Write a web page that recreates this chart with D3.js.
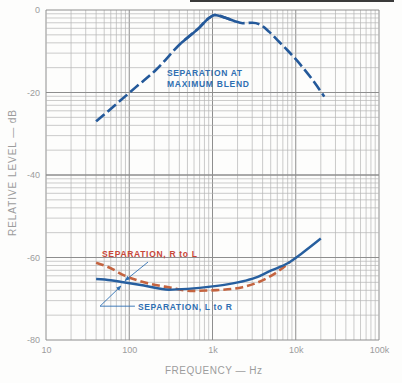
<!DOCTYPE html>
<html>
<head>
<meta charset="utf-8">
<script src="https://cdn.jsdelivr.net/npm/d3@7"></script>
<style>
  html, body { margin: 0; padding: 0; background: #fdfdfc; }
  svg { display: block; }
</style>
</head>
<body>
<script>
// ---- data ----
const freqTicks = [10, 100, 1000, 10000, 100000];
const freqTickLabels = ["10", "100", "1k", "10k", "100k"];
const dbTicks = [0, -20, -40, -60, -80];

const blendFreq = [40, 70, 120, 210, 420, 700, 900, 1060, 1400, 1850, 2300, 3000, 3700, 4800, 6300, 7900, 11000, 16000, 22000];
const blendDb   = [-27, -22.8, -18.7, -14.5, -8, -4.2, -2, -1.2, -1.8, -2.7, -3.2, -3.1, -3.5, -5.3, -7.7, -9.7, -12.9, -17, -21];

const lrFreq = [40, 60, 85, 150, 300, 500, 1000, 1500, 2500, 3500, 5000, 8000, 12000, 20000];
const lrDb   = [-65.2, -65.5, -66, -66.8, -67.8, -67.6, -67, -66.5, -65.6, -64.7, -63.2, -61.4, -58.9, -55.4];

const rlFreq = [40, 60, 84, 150, 310, 540, 1130, 2300, 4500, 6000, 8500];
const rlDb   = [-61.3, -62.6, -64.2, -66, -67.3, -68.1, -67.9, -67.2, -65, -63.5, -61.1];

// ---- layout ----
const W = 402, H = 383;
const x = d3.scaleLog().domain([10, 100000]).range([46, 379]);
const y = d3.scaleLinear().domain([0, -80]).range([10, 340]);

const svg = d3.select("body").append("svg").attr("width", W).attr("height", H);
svg.append("rect").attr("width", W).attr("height", H).attr("fill", "#fdfdfc");

// photo edge
svg.append("line").attr("x1", 190).attr("x2", 394).attr("y1", 1).attr("y2", 1)
  .attr("stroke", "#3a3a3a").attr("stroke-width", 2);

// ---- grid (log-log graph paper) ----
const grid = svg.append("g");
const vLines = [];
for (let d = 10; d < 100000; d *= 10) {
  for (let k = 1; k <= 9; k++) vLines.push({ v: d * k, major: k === 1 });
}
vLines.push({ v: 100000, major: true });
grid.selectAll(".vl").data(vLines).join("line")
  .attr("x1", d => x(d.v)).attr("x2", d => x(d.v))
  .attr("y1", y(0)).attr("y2", y(-80))
  .attr("stroke", d => d.major ? "#8e8e8e" : "#b4b4b4")
  .attr("stroke-width", d => d.major ? 1 : 0.7);

const hLines = [];
for (let top = 0; top > -80; top -= 20) {
  for (let k = 1; k <= 10; k++) {
    const db = top + 20 * Math.log10(k / 10);
    hLines.push({ v: db, major: k === 10 || k === 1 });
  }
}
grid.selectAll(".hl").data(hLines).join("line")
  .attr("x1", x(10)).attr("x2", x(100000))
  .attr("y1", d => y(d.v)).attr("y2", d => y(d.v))
  .attr("stroke", d => d.major ? "#8e8e8e" : "#b4b4b4")
  .attr("stroke-width", d => d.major ? 1 : 0.7);

// ---- axes ----
const axisColor = "#9c9c9c";
const xAxis = svg.append("g").attr("transform", `translate(0,${y(-80) + 4})`)
  .call(d3.axisBottom(x).tickValues(freqTicks).tickSize(0)
    .tickFormat((d, i) => freqTickLabels[i]));
xAxis.select(".domain").remove();
xAxis.selectAll("text").attr("fill", axisColor).attr("font-family", "Liberation Sans, Arial, sans-serif")
  .attr("font-size", 9);

const yAxis = svg.append("g").attr("transform", `translate(${x(10) - 3},0)`)
  .call(d3.axisLeft(y).tickValues(dbTicks).tickSize(0).tickFormat(d => String(d)));
yAxis.select(".domain").remove();
yAxis.selectAll("text").attr("fill", axisColor).attr("font-family", "Liberation Sans, Arial, sans-serif")
  .attr("font-size", 9);

svg.append("text")
  .attr("transform", `translate(16,236) rotate(-90)`)
  .attr("textLength", 126).attr("lengthAdjust", "spacing")
  .attr("font-family", "Liberation Sans, Arial, sans-serif").attr("font-size", 10)
  .attr("fill", axisColor)
  .text("RELATIVE LEVEL — dB");

svg.append("text")
  .attr("x", 165).attr("y", 374)
  .attr("textLength", 97).attr("lengthAdjust", "spacing")
  .attr("font-family", "Liberation Sans, Arial, sans-serif").attr("font-size", 10)
  .attr("fill", axisColor)
  .text("FREQUENCY — Hz");

// ---- curves ----
const line = d3.line().x(d => x(d[0])).y(d => y(d[1])).curve(d3.curveMonotoneX);
const blend = blendFreq.map((f, i) => [f, blendDb[i]]);
const lr = lrFreq.map((f, i) => [f, lrDb[i]]);
const rl = rlFreq.map((f, i) => [f, rlDb[i]]);

const blendColor = "#24599a";
svg.append("path").attr("d", line(blend)).attr("fill", "none")
  .attr("stroke", blendColor).attr("stroke-width", 2.6)
  .attr("stroke-dasharray", "11,4");
svg.append("path").attr("d", line(blend.filter(d => d[0] >= 420 && d[0] <= 2000)))
  .attr("fill", "none").attr("stroke", blendColor).attr("stroke-width", 2.6);

svg.append("path").attr("d", line(rl)).attr("fill", "none")
  .attr("stroke", "#c46440").attr("stroke-width", 2.6)
  .attr("stroke-dasharray", "8,4");

svg.append("path").attr("d", line(lr)).attr("fill", "none")
  .attr("stroke", "#275f9f").attr("stroke-width", 2.4);

// ---- annotations ----
const labelFont = "Liberation Sans, Arial, sans-serif";
const annBlue = "#2f6fb2";
const blendLabel = svg.append("g").attr("font-family", labelFont).attr("font-size", 8.5)
  .attr("font-weight", "bold").attr("fill", annBlue);
blendLabel.append("text").attr("x", x(284)).attr("y", y(-16))
  .attr("textLength", 75).attr("lengthAdjust", "spacing").text("SEPARATION AT");
blendLabel.append("text").attr("x", x(284)).attr("y", y(-18.7))
  .attr("textLength", 82).attr("lengthAdjust", "spacing").text("MAXIMUM BLEND");

svg.append("text").attr("x", x(47)).attr("y", y(-59.9))
  .attr("font-family", labelFont).attr("font-size", 8.5).attr("font-weight", "bold")
  .attr("fill", "#c9473a").attr("textLength", 95).attr("lengthAdjust", "spacing")
  .text("SEPARATION, R to L");

svg.append("text").attr("x", x(127)).attr("y", y(-72.7))
  .attr("font-family", labelFont).attr("font-size", 8.5).attr("font-weight", "bold")
  .attr("fill", annBlue).attr("textLength", 94).attr("lengthAdjust", "spacing")
  .text("SEPARATION, L to R");

// arrow marker
svg.append("defs").append("marker").attr("id", "arr")
  .attr("viewBox", "0 0 10 10").attr("refX", 9).attr("refY", 5)
  .attr("markerWidth", 6).attr("markerHeight", 6).attr("orient", "auto")
  .append("path").attr("d", "M0,1 L10,5 L0,9 Z").attr("fill", annBlue);

const leaderRL = [[168, -61.1], [89, -65.6]];
const leaderLR = [[117, -71.8], [44.6, -71.8], [79.6, -66.9]];
const straight = d3.line().x(d => x(d[0])).y(d => y(d[1]));
svg.append("path").attr("d", straight(leaderRL)).attr("fill", "none")
  .attr("stroke", annBlue).attr("stroke-width", 0.9).attr("marker-end", "url(#arr)");
svg.append("path").attr("d", straight(leaderLR)).attr("fill", "none")
  .attr("stroke", annBlue).attr("stroke-width", 0.9).attr("marker-end", "url(#arr)");
</script>
</body>
</html>
